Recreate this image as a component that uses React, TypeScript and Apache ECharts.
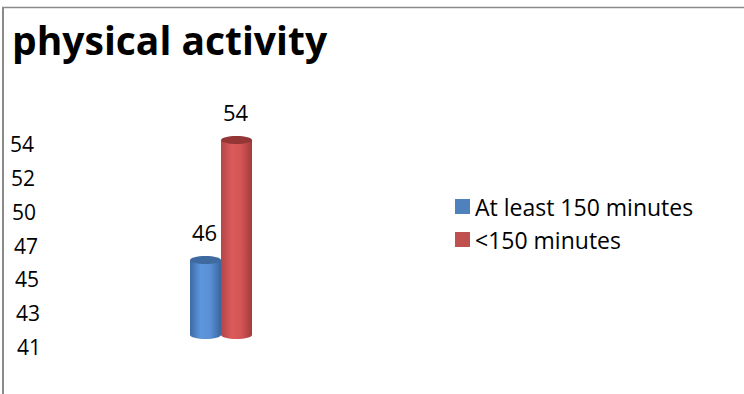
import React, { useEffect, useRef } from "react";
import * as echarts from "echarts";

// Chart content
const chartTitle = "physical activity";
const categories = ["At least 150 minutes", "<150 minutes"];
const values = [46, 54];
const tickLabels = ["41", "43", "45", "47", "50", "52", "54"];
const axisMin = 41;
const axisMax = 54;

// Cylinder shading per series: [edge, highlight, mid, shadow], cap, legend swatch
const shades = [
  { stops: ["#3d6aa5", "#5e96dc", "#5990d6", "#3a659e"], cap: "#3e6a9f", swatch: "#4f81bd" },
  { stops: ["#b44646", "#db5a5a", "#d45454", "#a33b3b"], cap: "#943636", swatch: "#c0504d" },
];

const FONT = "'Open Sans', 'Noto Sans', sans-serif";

function makeRenderItem(si: number) {
  return (params: any, api: any) => {
    const idx = api.value(0);
    const v = api.value(1);
    const top = api.coord([idx, v]);
    const base = api.coord([idx, axisMin]);
    const w = api.size([1, 0])[0];
    const rx = w / 2;
    const ry = 4;
    const cx = top[0];
    const s = shades[si];
    const body = new echarts.graphic.LinearGradient(0, 0, 1, 0, [
      { offset: 0, color: s.stops[0] },
      { offset: 0.35, color: s.stops[1] },
      { offset: 0.65, color: s.stops[2] },
      { offset: 1, color: s.stops[3] },
    ]);
    return {
      type: "group",
      children: [
        { type: "ellipse", shape: { cx, cy: base[1], rx, ry }, style: { fill: body } },
        {
          type: "rect",
          shape: { x: cx - rx, y: top[1], width: w, height: base[1] - top[1] },
          style: { fill: body },
        },
        { type: "ellipse", shape: { cx, cy: top[1], rx, ry }, style: { fill: s.cap } },
        {
          type: "text",
          style: {
            text: String(v),
            x: cx - 1,
            y: top[1] - 28,
            align: "center",
            verticalAlign: "middle",
            font: `22px ${FONT}`,
            fill: "#000",
          },
        },
      ],
    };
  };
}

export default function App() {
  const ref = useRef<HTMLDivElement>(null);

  useEffect(() => {
    if (!ref.current) return;
    const chart = echarts.init(ref.current, undefined, { renderer: "svg" });

    const rich: Record<string, any> = {};
    tickLabels.forEach((_, i) => {
      rich["t" + i] = {
        fontSize: 21,
        fontFamily: FONT,
        color: "#000",
        padding: [0, 0, 0, Math.round((tickLabels.length - 1 - i) * 1.2)],
      };
    });

    chart.setOption({
      animation: false,
      backgroundColor: "#fff",
      title: {
        text: chartTitle,
        left: 12,
        top: 20,
        padding: 0,
        textStyle: { fontSize: 39, fontWeight: "bold", fontFamily: FONT, color: "#000" },
      },
      graphic: [
        { type: "line", shape: { x1: 3, y1: 394, x2: 3, y2: 7 }, style: { stroke: "#8a8a8a", lineWidth: 2 } },
        { type: "line", shape: { x1: 2, y1: 7.5, x2: 744, y2: 7.5 }, style: { stroke: "#8a8a8a", lineWidth: 1.5 } },
      ],
      legend: {
        orient: "vertical",
        left: 455,
        top: 195,
        padding: 0,
        icon: "rect",
        itemWidth: 15,
        itemHeight: 15,
        itemGap: 10,
        textStyle: { fontSize: 23, fontFamily: FONT, color: "#000" },
        data: categories,
      },
      grid: [
        { left: 40, top: 144, bottom: 394 - 347, width: 1 },
        { left: 190, top: 140, bottom: 394 - 335, width: 62 },
      ],
      xAxis: [
        { gridIndex: 0, type: "category", data: [""], show: false },
        { gridIndex: 1, type: "category", data: categories, show: false },
      ],
      yAxis: [
        {
          gridIndex: 0,
          type: "category",
          data: tickLabels,
          boundaryGap: false,
          axisLine: { show: false },
          axisTick: { show: false },
          splitLine: { show: false },
          axisLabel: {
            margin: 30,
            align: "left",
            formatter: (val: string, i: number) => `{t${i}|${val}}`,
            rich,
          },
        },
        { gridIndex: 1, type: "value", min: axisMin, max: axisMax, show: false, splitLine: { show: false } },
      ],
      series: categories.map((name, i) => ({
        name,
        type: "custom",
        xAxisIndex: 1,
        yAxisIndex: 1,
        itemStyle: { color: shades[i].swatch },
        renderItem: makeRenderItem(i),
        data: [[i, values[i]]],
      })),
    });

    return () => chart.dispose();
  }, []);

  return (
    <div
      ref={ref}
      style={{ position: "fixed", left: 0, top: 0, width: 744, height: 394 }}
    />
  );
}
